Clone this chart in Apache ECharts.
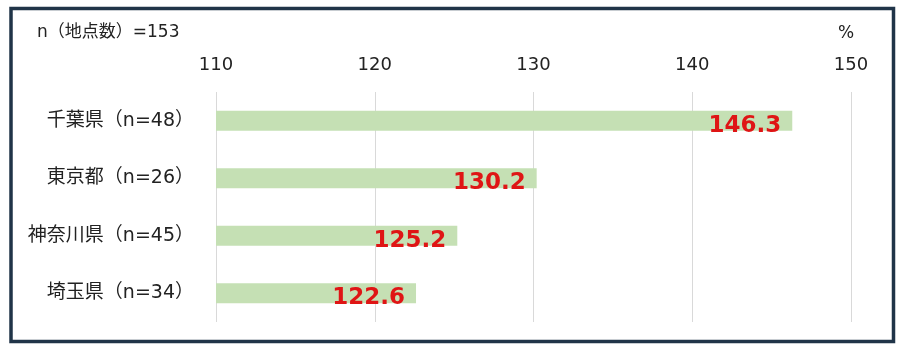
<!DOCTYPE html>
<html><head><meta charset="utf-8">
<script src="https://cdn.jsdelivr.net/npm/echarts@6/dist/echarts.min.js"></script>
<style>html,body{margin:0;padding:0;background:#fff}#c{width:900px;height:357px}</style>
</head><body><div id="c"></div>
<script>
const categories = ['千葉県（n=48）', '東京都（n=26）', '神奈川県（n=45）', '埼玉県（n=34）'];
const values = [146.3, 130.2, 125.2, 122.6];
const axisMin = 110, axisMax = 150, axisStep = 10;
const titleText = 'n（地点数）=153';
const unitText = '%';

const baseFont = '"DejaVu Sans", "Noto Sans CJK JP", sans-serif';
// put full-width parentheses in their own rich segments so they keep full width
const splitParens = s => s.replace(/（/g, '{p|（}').replace(/）/g, '{p|）}');
const chart = echarts.init(document.getElementById('c'));
chart.setOption({
  animation: false,
  backgroundColor: '#fff',
  grid: { left: 216, right: 49, top: 92, bottom: 35, containLabel: false },
  graphic: [
    { type: 'rect', shape: { x: 11, y: 8.5, width: 882.5, height: 333 },
      style: { fill: 'none', stroke: '#203448', lineWidth: 3.5 }, z: 100 },
    { type: 'text', left: 37, top: 24,
      style: { text: splitParens(titleText), font: '17px ' + baseFont, fill: '#222',
        rich: { p: { font: '17px ' + baseFont, fill: '#222' } } } },
    { type: 'text', left: 838, top: 25,
      style: { text: unitText, font: '17px ' + baseFont, fill: '#222' } }
  ],
  xAxis: {
    type: 'value', position: 'top', min: axisMin, max: axisMax, interval: axisStep,
    axisLine: { show: false }, axisTick: { show: false },
    axisLabel: { color: '#222', fontSize: 18, fontFamily: baseFont, margin: 18 },
    splitLine: { lineStyle: { color: '#d9d9d9', width: 1 } }
  },
  yAxis: {
    type: 'category', data: categories, inverse: true,
    axisLine: { show: false }, axisTick: { show: false },
    axisLabel: {
      color: '#222', fontSize: 19, fontFamily: baseFont, margin: 22,
      formatter: v => splitParens(v),
      rich: { p: { color: '#222', fontSize: 19, fontFamily: baseFont } }
    }
  },
  series: [{
    type: 'bar', data: values, barWidth: 20,
    itemStyle: { color: '#c5e0b4' },
    label: {
      show: true, position: 'insideRight', distance: 0, offset: [-11, 5],
      color: '#df1515', fontSize: 23, fontWeight: 'bold', fontFamily: baseFont,
      formatter: p => p.value.toFixed(1)
    }
  }]
});
</script></body></html>
